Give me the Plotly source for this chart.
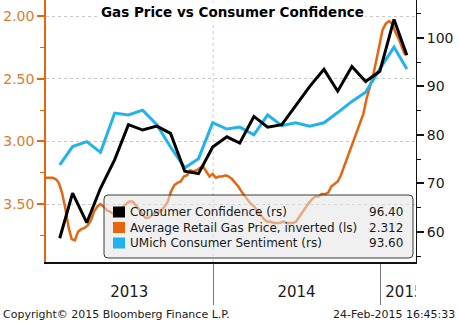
import pandas as pd
import plotly.graph_objects as go

# Weekly average retail gasoline price, USD/gal (left axis, inverted)
gas_start = "2013-01-01"
gas_price = [
    3.29, 3.29, 3.29, 3.30, 3.33, 3.41, 3.53, 3.68, 3.78, 3.79,
    3.72, 3.70, 3.69, 3.67, 3.63, 3.56, 3.52, 3.50, 3.52, 3.55,
    3.56, 3.58, 3.58, 3.55, 3.52, 3.50, 3.48, 3.48, 3.51, 3.54,
    3.58, 3.61, 3.61, 3.59, 3.57, 3.56, 3.55, 3.52, 3.48, 3.40,
    3.35, 3.33, 3.32, 3.28, 3.27, 3.23, 3.24, 3.23, 3.21, 3.20,
    3.24, 3.28, 3.26, 3.29, 3.28, 3.28, 3.27, 3.28, 3.30, 3.33,
    3.36, 3.40, 3.44, 3.47, 3.50, 3.52, 3.56, 3.59, 3.62, 3.64,
    3.64, 3.65, 3.65, 3.65, 3.64, 3.65, 3.65, 3.65, 3.64, 3.60,
    3.57, 3.52, 3.49, 3.46, 3.44, 3.44, 3.42, 3.42, 3.41, 3.36,
    3.34, 3.32, 3.27, 3.20, 3.13, 3.06, 2.99, 2.92, 2.85, 2.78,
    2.66, 2.57, 2.48, 2.36, 2.23, 2.11, 2.06, 2.04, 2.06, 2.13,
    2.18, 2.24, 2.312,
]

# Monthly indices, Jan 2013 - Feb 2015 (right axis)
month_start = "2013-01-31"
consumer_confidence = [
    58.7, 68.0, 61.9, 69.0, 74.9, 82.1, 81.0, 81.8, 80.3, 72.5, 72.0, 77.5,
    79.6, 78.3, 83.8, 81.6, 82.1, 85.9, 90.0, 93.5, 89.0, 94.1, 91.0, 93.1,
    103.8, 96.4,
]
umich_sentiment = [
    73.8, 77.6, 78.6, 76.4, 84.5, 84.1, 85.1, 82.1, 77.5, 73.2, 75.1, 82.5,
    81.2, 81.6, 80.0, 84.1, 81.9, 82.5, 81.8, 82.5, 84.6, 86.9, 88.8, 93.6,
    98.1, 93.6,
]

year_labels = ["2013", "2014", "2015"]
year_label_dates = ["2013-07-02", "2014-07-02", "2015-01-12"]
title_text = "Gas Price vs Consumer Confidence"
series_names = [
    "Consumer Confidence (rs)",
    "Average Retail Gas Price, inverted (ls)",
    "UMich Consumer Sentiment (rs)",
]
copyright_text = "Copyright\u00a9 2015 Bloomberg Finance L.P."
stamp_text = "24-Feb-2015 16:45:33"

gas_dates = pd.date_range(gas_start, periods=len(gas_price), freq="7D")
month_dates = pd.date_range(month_start, periods=len(consumer_confidence),
                            freq=pd.offsets.MonthEnd())

BLACK = "#000000"
ORANGE = "#e8650f"
ORANGE_TXT = "#dc7a30"
CYAN = "#22b2ee"
FONT = "DejaVu Sans"
X_RANGE = ["2013-01-01", "2015-03-20"]

W_FIG, H_FIG = 459, 322
L, R = 46, 416          # plot area, left/right edge
T, B = 0, 262           # plot area, top/bottom edge
STRIP_B = 303           # bottom of the year-label strip
PW = R - L
PAPER_H = STRIP_B - T


def px(x):
    return (x - L) / PW


def py(y):
    return (STRIP_B - y) / PAPER_H


fig = go.Figure()
fig.add_trace(go.Scatter(x=gas_dates, y=gas_price, mode="lines",
                         line=dict(color=ORANGE, width=2.5), yaxis="y",
                         showlegend=False))
fig.add_trace(go.Scatter(x=month_dates, y=umich_sentiment, mode="lines",
                         line=dict(color=CYAN, width=3), yaxis="y2",
                         showlegend=False))
fig.add_trace(go.Scatter(x=month_dates, y=consumer_confidence, mode="lines",
                         line=dict(color=BLACK, width=3), yaxis="y2",
                         showlegend=False))
# year labels live in a thin strip under the plot, clipped at its edges
fig.add_trace(go.Scatter(x=year_label_dates, y=[-0.5, -0.5, -0.5], mode="text",
                         text=year_labels,
                         textposition=["middle center", "middle center",
                                       "middle right"],
                         textfont=dict(family=FONT, size=15, color="#1a1a1a"),
                         cliponaxis=True, xaxis="x2", yaxis="y3",
                         hoverinfo="skip", showlegend=False))

shapes = []
# year gridline
shapes.append(dict(type="line", xref="x", yref="y domain", x0="2014-01-01",
                   x1="2014-01-01", y0=0, y1=1, layer="below",
                   line=dict(color="#c8c8c8", width=1, dash="dot")))

# legend box with rounded corners
x0, x1, y0, y1 = px(104), px(413), py(258), py(195)
rx, ry = 4 / PW, 4 / PAPER_H
path = (f"M {x0+rx},{y1} L {x1-rx},{y1} Q {x1},{y1} {x1},{y1-ry} "
        f"L {x1},{y0+ry} Q {x1},{y0} {x1-rx},{y0} L {x0+rx},{y0} "
        f"Q {x0},{y0} {x0},{y0+ry} L {x0},{y1-ry} Q {x0},{y1} {x0+rx},{y1} Z")
shapes.append(dict(type="path", xref="paper", yref="paper", path=path,
                   fillcolor="rgba(228,228,228,0.55)",
                   line=dict(color="#3a3a3a", width=1), layer="above"))

legend_colors = [BLACK, ORANGE, CYAN]
legend_values = [f"{consumer_confidence[-1]:.2f}", f"{gas_price[-1]:.3f}",
                 f"{umich_sentiment[-1]:.2f}"]
row_y = [212, 227.5, 243]
annotations = []
for name, col, val, yc in zip(series_names, legend_colors, legend_values, row_y):
    shapes.append(dict(type="rect", xref="paper", yref="paper",
                       x0=px(113), x1=px(125), y0=py(yc + 5.5), y1=py(yc - 5.5),
                       fillcolor=col, line=dict(width=0), layer="above"))
    annotations.append(dict(text=name, xref="paper", yref="paper", x=px(128),
                            y=py(yc), xanchor="left", yanchor="middle",
                            showarrow=False,
                            font=dict(family=FONT, size=12, color="#1a1a1a")))
    annotations.append(dict(text=val, xref="paper", yref="paper", x=px(405),
                            y=py(yc), xanchor="right", yanchor="middle",
                            showarrow=False,
                            font=dict(family=FONT, size=12, color="#1a1a1a")))

annotations.append(dict(text=f"<b>{title_text}</b>", xref="paper", yref="paper",
                        x=px(232), y=py(12), xanchor="center", yanchor="middle",
                        showarrow=False, bgcolor="white", borderpad=1,
                        font=dict(family=FONT, size=13.5, color="#000")))
annotations.append(dict(text=copyright_text, xref="paper", yref="paper",
                        x=px(1), y=py(314), xanchor="left", yanchor="middle",
                        showarrow=False,
                        font=dict(family=FONT, size=11, color="#1a1a1a")))
annotations.append(dict(text=stamp_text, xref="paper", yref="paper",
                        x=px(457), y=py(314), xanchor="right", yanchor="middle",
                        showarrow=False,
                        font=dict(family=FONT, size=11, color="#1a1a1a")))

main_dom = [(STRIP_B - B) / PAPER_H, 1]
strip_dom = [0, (STRIP_B - B) / PAPER_H]

fig.update_layout(
    width=W_FIG, height=H_FIG,
    margin=dict(l=L, r=W_FIG - R, t=T, b=H_FIG - STRIP_B, pad=0),
    paper_bgcolor="white", plot_bgcolor="white",
    showlegend=False,
    xaxis=dict(range=X_RANGE, type="date", anchor="y",
               showgrid=False, zeroline=False, showline=True,
               linecolor="#111", linewidth=1.5,
               tickmode="array", tickvals=["2014-01-01", "2015-01-01"],
               ticks="outside", ticklen=41, tickwidth=1, tickcolor="#777",
               showticklabels=False),
    xaxis2=dict(range=X_RANGE, type="date", anchor="y3", matches="x",
                visible=False),
    yaxis=dict(domain=main_dom, range=[3.962, 1.872], tickmode="linear",
               tick0=2.0, dtick=0.5, tickformat=".2f", showgrid=True,
               gridcolor="#c8c8c8", griddash="dot", gridwidth=1,
               zeroline=False, showline=True, linecolor=ORANGE, linewidth=1.5,
               ticks="outside", ticklen=7, tickwidth=2, tickcolor=ORANGE,
               minor=dict(dtick=0.25, tick0=2.0, ticks="outside", ticklen=4,
                          tickwidth=1, tickcolor=ORANGE, showgrid=False),
               tickfont=dict(family=FONT, size=14, color=ORANGE_TXT)),
    yaxis2=dict(domain=main_dom, range=[53.8, 107.8], overlaying="y",
                side="right", anchor="x",
                tickmode="linear", tick0=60, dtick=10, showgrid=False,
                zeroline=False, showline=True, linecolor="#111", linewidth=1,
                ticks="outside", ticklen=7, tickwidth=2, tickcolor="#111",
                minor=dict(dtick=5, tick0=60, ticks="outside", ticklen=4,
                           tickwidth=1, tickcolor="#111", showgrid=False),
                tickfont=dict(family=FONT, size=14, color="#1a1a1a")),
    yaxis3=dict(domain=strip_dom, range=[-1, 1], anchor="x2", visible=False),
    shapes=shapes,
    annotations=annotations,
)

fig.write_html("out.html")
